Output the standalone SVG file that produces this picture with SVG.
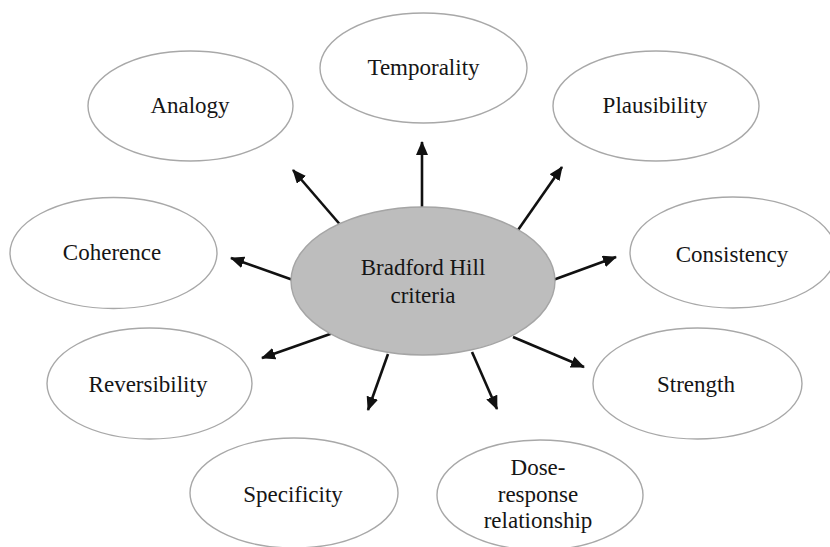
<svg xmlns="http://www.w3.org/2000/svg" width="830" height="547" viewBox="0 0 830 547">
<style>
.node ellipse{fill:#ffffff;stroke:#a8a8a8;stroke-width:1.4}
.hub ellipse{fill:#bdbdbd;stroke:#a5a5a5;stroke-width:1.4}
text{font-family:'Liberation Serif','Times New Roman',Times,'DejaVu Serif',serif;font-size:23px;fill:#151515;text-anchor:middle}
.conn line{stroke:#111;stroke-width:2.6}
</style>
<defs>
<marker id="ah" markerUnits="userSpaceOnUse" markerWidth="14" markerHeight="12" viewBox="0 0 14 12" refX="13" refY="6" orient="auto">
<path d="M0,0 L14,6 L0,12 Z" fill="#111"/>
</marker>
</defs>
<rect width="830" height="547" fill="#ffffff"/>
<g class="conn">
<line x1="422" y1="208" x2="422" y2="142" marker-end="url(#ah)"/>
<line x1="343" y1="228" x2="293" y2="170" marker-end="url(#ah)"/>
<line x1="518" y1="230" x2="562" y2="167" marker-end="url(#ah)"/>
<line x1="293" y1="280" x2="231" y2="258" marker-end="url(#ah)"/>
<line x1="553" y1="280" x2="616" y2="257" marker-end="url(#ah)"/>
<line x1="333" y1="333" x2="262" y2="358" marker-end="url(#ah)"/>
<line x1="513" y1="337" x2="584" y2="367" marker-end="url(#ah)"/>
<line x1="388" y1="354" x2="368" y2="410" marker-end="url(#ah)"/>
<line x1="472" y1="352" x2="497" y2="409" marker-end="url(#ah)"/>
</g>
<g id="hub" class="hub">
<ellipse cx="423" cy="281" rx="132" ry="74"/>
<text x="423" y="275">Bradford Hill</text>
<text x="423" y="303">criteria</text>
</g>
<g id="temporality" class="node">
<ellipse cx="423.5" cy="68" rx="103.5" ry="55"/>
<text x="423.5" y="75">Temporality</text>
</g>
<g id="analogy" class="node">
<ellipse cx="190.5" cy="106" rx="102.5" ry="55"/>
<text x="190" y="113">Analogy</text>
</g>
<g id="plausibility" class="node">
<ellipse cx="656" cy="106" rx="103" ry="55"/>
<text x="655" y="113">Plausibility</text>
</g>
<g id="coherence" class="node">
<ellipse cx="113.5" cy="253" rx="103.5" ry="55.5"/>
<text x="112" y="260">Coherence</text>
</g>
<g id="consistency" class="node">
<ellipse cx="733" cy="252.5" rx="103" ry="55.5"/>
<text x="732" y="262">Consistency</text>
</g>
<g id="reversibility" class="node">
<ellipse cx="149.5" cy="383.5" rx="102.5" ry="55.5"/>
<text x="148" y="392">Reversibility</text>
</g>
<g id="strength" class="node">
<ellipse cx="697.5" cy="383.5" rx="104.5" ry="55.5"/>
<text x="696" y="392">Strength</text>
</g>
<g id="specificity" class="node">
<ellipse cx="294" cy="493" rx="104" ry="55"/>
<text x="293" y="502">Specificity</text>
</g>
<g id="dose-response" class="node">
<ellipse cx="540" cy="495" rx="103" ry="55"/>
<text x="538" y="475">Dose-</text>
<text x="538" y="502">response</text>
<text x="538" y="528">relationship</text>
</g>
</svg>
